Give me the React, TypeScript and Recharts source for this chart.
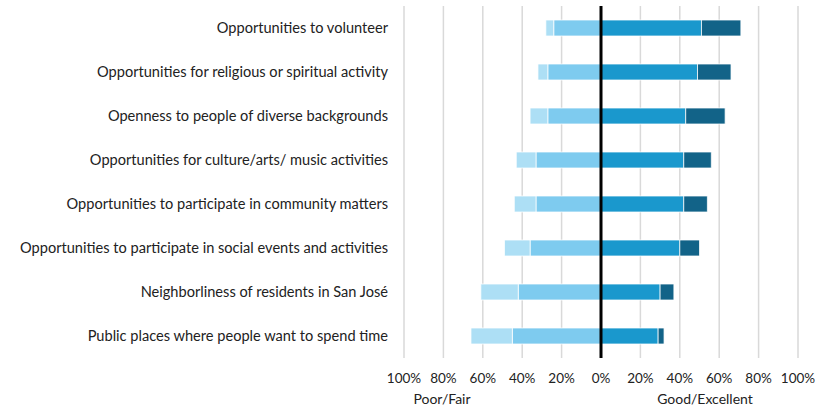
import { BarChart, Bar, XAxis, YAxis, CartesianGrid, ReferenceLine } from 'recharts';

const categories = [
  'Opportunities to volunteer',
  'Opportunities for religious or spiritual activity',
  'Openness to people of diverse backgrounds',
  'Opportunities for culture/arts/ music activities',
  'Opportunities to participate in community matters',
  'Opportunities to participate in social events and activities',
  'Neighborliness of residents in San José',
  'Public places where people want to spend time',
];

// percent of respondents
const poor = [4, 5, 9, 10, 11, 13, 19, 21];
const fair = [24, 27, 27, 33, 33, 36, 42, 45];
const good = [51, 49, 43, 42, 42, 40, 30, 29];
const excellent = [20, 17, 20, 14, 12, 10, 7, 3];

const xTicks = [-100, -80, -60, -40, -20, 0, 20, 40, 60, 80, 100];

const data = categories.map((name, i) => ({
  name,
  fair: -fair[i],
  poor: -poor[i],
  good: good[i],
  excellent: excellent[i],
}));

const font = 'Lato, "DejaVu Sans", sans-serif';

const App = () => {
  // ticks show absolute values on both sides of zero
  const formatTick = (v: number) => `${Math.abs(v)}%`;

  return (
    <div style={{ position: 'absolute', left: 0, top: 0, width: 827, height: 417, background: '#fff', fontFamily: font }}>
      <BarChart
        width={827}
        height={417}
        data={data}
        layout="vertical"
        stackOffset="sign"
        barSize={16}
        margin={{ top: 6, right: 29, left: 0, bottom: 29 }}
      >
        <CartesianGrid horizontal={false} stroke="#d9d9d9" strokeWidth={1.5} />
        <XAxis
          type="number"
          domain={[-100, 100]}
          ticks={xTicks}
          tickFormatter={formatTick}
          axisLine={false}
          tickLine={false}
          tickMargin={9}
          height={30}
          tick={{ fill: '#222', fontSize: 13.5, fontFamily: font }}
          interval={0}
        />
        <YAxis
          type="category"
          dataKey="name"
          width={404}
          axisLine={false}
          tickLine={false}
          tickMargin={10}
          tick={{ fill: '#222', fontSize: 14.6, fontFamily: font }}
          interval={0}
        />
        <Bar dataKey="fair" stackId="a" fill="#7ecbef" stroke="#ffffff" strokeWidth={0.75} isAnimationActive={false} />
        <Bar dataKey="poor" stackId="a" fill="#addff5" stroke="#ffffff" strokeWidth={0.75} isAnimationActive={false} />
        <Bar dataKey="good" stackId="a" fill="#1a98cd" stroke="#ffffff" strokeWidth={0.75} isAnimationActive={false} />
        <Bar dataKey="excellent" stackId="a" fill="#126388" stroke="#ffffff" strokeWidth={0.75} isAnimationActive={false} />
        <ReferenceLine x={0} stroke="#000" strokeWidth={3} />
      </BarChart>
      <div style={{ position: 'absolute', left: 442, top: 390, transform: 'translateX(-50%)', fontSize: 14, color: '#222', whiteSpace: 'nowrap' }}>
        Poor/Fair
      </div>
      <div style={{ position: 'absolute', left: 705, top: 390, transform: 'translateX(-50%)', fontSize: 14, color: '#222', whiteSpace: 'nowrap' }}>
        Good/Excellent
      </div>
    </div>
  );
};

export default App;
